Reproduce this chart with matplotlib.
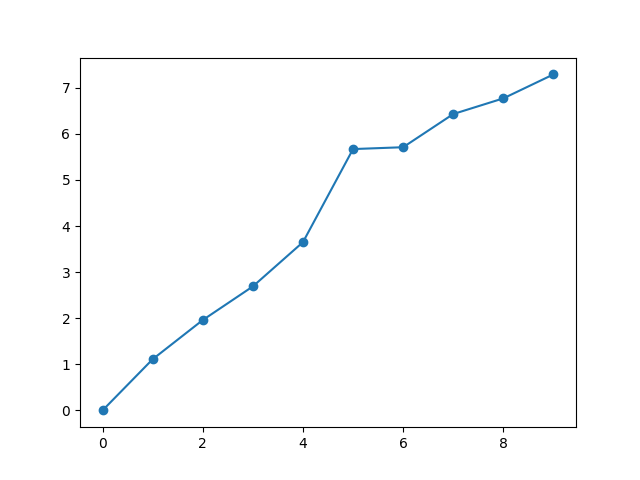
import numpy as np
import matplotlib
matplotlib.use("Agg")
import matplotlib.pyplot as plt

# values
x = np.arange(10)
y = [0.0, 1.11, 1.96, 2.69, 3.65, 5.67, 5.71, 6.43, 6.77, 7.29]

fig, ax = plt.subplots(figsize=(6.4, 4.8), dpi=100)
ax.plot(x, y, marker='o')
fig.savefig("out.png")
